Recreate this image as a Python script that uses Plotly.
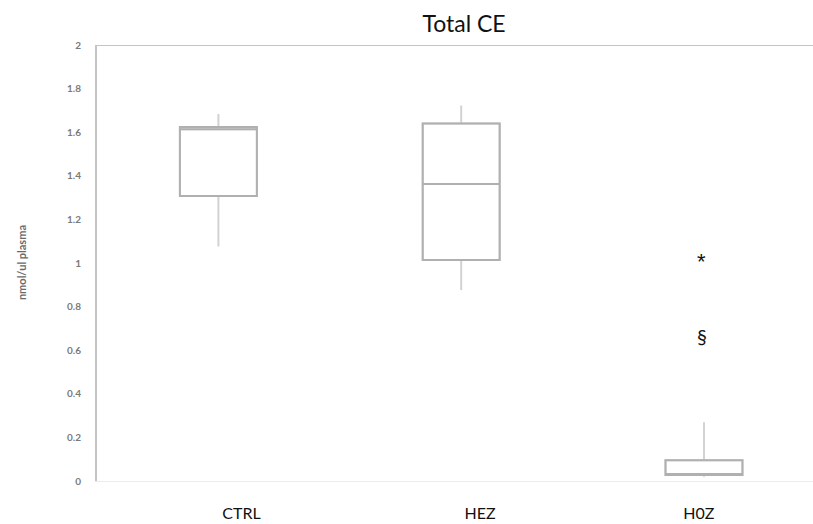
import plotly.graph_objects as go

# Group summary statistics (nmol/ul plasma)
groups = ["CTRL", "HEZ", "H0Z"]
lower_whisker = [1.076, 0.876, 0.020]
q1_values = [1.307, 1.014, 0.027]
medians = [1.614, 1.362, 0.031]
q3_values = [1.624, 1.640, 0.095]
upper_whisker = [1.683, 1.722, 0.269]

# Significance markers above the H0Z group
marker_texts = ["*", "§"]
marker_levels = [1.005, 0.665]

y_ticks = [0, 0.2, 0.4, 0.6, 0.8, 1, 1.2, 1.4, 1.6, 1.8, 2]
y_tick_text = ["0", "0.2", "0.4", "0.6", "0.8", "1", "1.2", "1.4", "1.6", "1.8", "2"]

positions = list(range(len(groups)))
label_positions = [0.095, 1.078, 1.979]

fig = go.Figure()

# Whiskers (lighter grey) drawn first
fig.add_trace(go.Box(
    x=positions,
    q1=q1_values, median=medians, q3=q3_values,
    lowerfence=lower_whisker, upperfence=upper_whisker,
    width=0.317, whiskerwidth=0,
    fillcolor="rgba(0,0,0,0)",
    line=dict(color="#d2d2d2", width=2),
    boxpoints=False, hoverinfo="skip", showlegend=False,
))
# Box outline and median on top, in a darker grey
fig.add_trace(go.Box(
    x=positions,
    q1=q1_values, median=medians, q3=q3_values,
    lowerfence=q1_values, upperfence=q3_values,
    width=0.317, whiskerwidth=0,
    fillcolor="rgba(255,255,255,0)",
    line=dict(color="#b0b0b0", width=2),
    boxpoints=False, showlegend=False,
))

for txt, lvl, fam, sz in zip(marker_texts, marker_levels,
                             ["Liberation Sans", "Lato"], [22, 20]):
    fig.add_annotation(x=positions[2] - 0.01, y=lvl, text=txt, showarrow=False,
                       font=dict(family=fam, size=sz, color="#111111"),
                       xanchor="center", yanchor="middle")

# Top frame line at the axis maximum
fig.add_shape(type="line", xref="paper", yref="y", x0=0, x1=1, y0=2, y1=2,
              line=dict(color="#c4c4c4", width=2))

fig.add_annotation(xref="paper", yref="paper", x=-0.106, y=0.5,
                   text="<b>nmol/ul plasma</b>", textangle=-90, showarrow=False,
                   font=dict(family="Lato", size=11, color="#6a6a6a"),
                   xanchor="center", yanchor="middle")

fig.update_layout(
    width=813, height=524,
    margin=dict(l=97, r=0, t=45, b=43, autoexpand=False),
    paper_bgcolor="white", plot_bgcolor="white",
    title=dict(text="Total CE", x=464 / 813, xanchor="center", y=1 - 24 / 524,
               yanchor="middle", font=dict(family="Lato", size=23, color="#111111")),
    xaxis=dict(
        range=[-0.5, 2.449], tickmode="array", tickvals=label_positions,
        ticktext=groups, showgrid=False, zeroline=False, automargin=False,
        showline=True, linecolor="#ececec", linewidth=1,
        ticks="", tickfont=dict(family="Lato", size=16, color="#111111"),
        ticklabelstandoff=18,
    ),
    yaxis=dict(
        range=[0, 2], tickmode="array", tickvals=y_ticks, ticktext=y_tick_text,
        showgrid=False, zeroline=False, automargin=False,
        showline=True, linecolor="#c4c4c4", linewidth=2,
        ticks="", tickfont=dict(family="Lato", size=10, color="#7a7a7a", weight="bold"),
        ticklabelstandoff=12,
    ),
)

fig.write_html("out.html")
